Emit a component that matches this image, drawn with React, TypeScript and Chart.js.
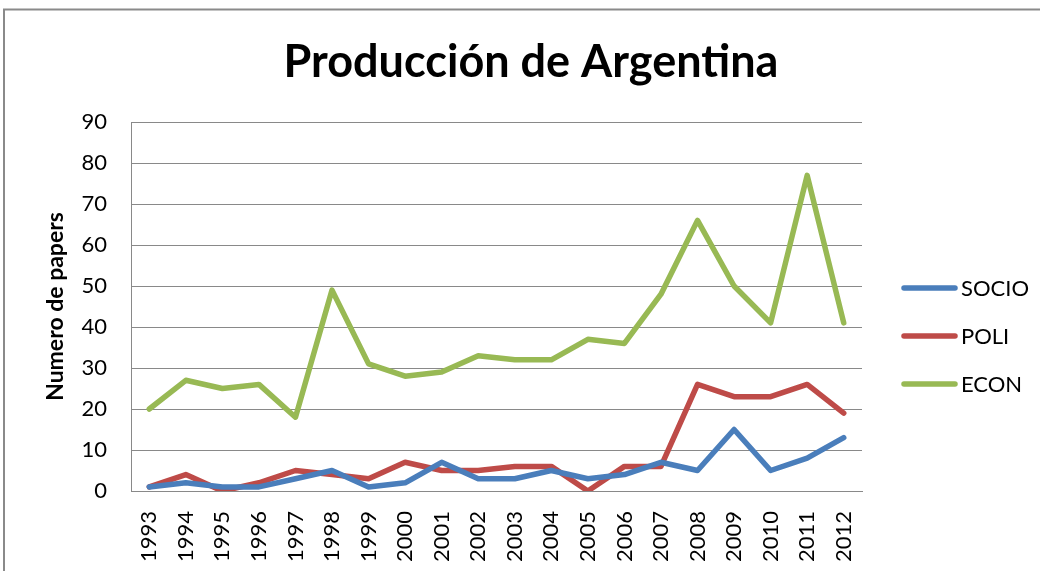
import React, { useEffect, useRef } from "react";
import { Chart, registerables } from "chart.js";

Chart.register(...registerables);

const years = ["1993","1994","1995","1996","1997","1998","1999","2000","2001","2002","2003","2004","2005","2006","2007","2008","2009","2010","2011","2012"];
const socio = [1, 2, 1, 1, 3, 5, 1, 2, 7, 3, 3, 5, 3, 4, 7, 5, 15, 5, 8, 13];
const poli = [1, 4, 0, 2, 5, 4, 3, 7, 5, 5, 6, 6, 0, 6, 6, 26, 23, 23, 26, 19];
const econ = [20, 27, 25, 26, 18, 49, 31, 28, 29, 33, 32, 32, 37, 36, 48, 66, 50, 41, 77, 41];
const seriesNames = ["SOCIO", "POLI", "ECON"];
const seriesColors = ["#4A7EBB", "#BE4B48", "#98B954"];
const yMin = 0;
const yMax = 90;
const yStep = 10;
const titleText = "Producción de Argentina";
const yTitle = "Numero de papers";

const FONT = "Lato";
const GRID = "#898989";

const framePlugin = {
  id: "frame",
  afterDraw(chart: any) {
    const ctx = chart.ctx;
    ctx.save();
    ctx.strokeStyle = "#8a8a8a";
    ctx.lineWidth = 2;
    ctx.beginPath();
    ctx.moveTo(4, 571);
    ctx.lineTo(4, 9.5);
    ctx.lineTo(1040, 9.5);
    ctx.stroke();
    // title
    ctx.fillStyle = "#000";
    ctx.font = `bold 45px ${FONT}`;
    ctx.textAlign = "center";
    ctx.textBaseline = "alphabetic";
    ctx.fillText(titleText, 531, 77);
    ctx.restore();
  },
};

const legendPlugin = {
  id: "customLegend",
  afterDraw(chart: any) {
    const ctx = chart.ctx;
    ctx.save();
    const rows = [288, 336, 384];
    chart.data.datasets.forEach((ds: any, i: number) => {
      const y = rows[i];
      ctx.strokeStyle = ds.borderColor;
      ctx.lineWidth = 5.5;
      ctx.lineCap = "round";
      ctx.beginPath();
      ctx.moveTo(904, y);
      ctx.lineTo(955, y);
      ctx.stroke();
      ctx.fillStyle = "#000";
      ctx.font = `22px ${FONT}`;
      ctx.textBaseline = "middle";
      ctx.textAlign = "left";
      ctx.fillText(ds.label, 961, y + 1);
    });
    ctx.restore();
  },
};

export default function App() {
  const ref = useRef<HTMLCanvasElement | null>(null);
  useEffect(() => {
    if (!ref.current) return;
    const chart = new Chart(ref.current, {
      type: "line",
      data: {
        labels: years,
        datasets: [socio, poli, econ].map((d, i) => ({
          label: seriesNames[i],
          data: d,
          borderColor: seriesColors[i],
          backgroundColor: seriesColors[i],
          borderWidth: 5.5,
          pointRadius: 0,
          tension: 0,
          borderJoinStyle: "round" as const,
          borderCapStyle: "round" as const,
        })),
      },
      options: {
        responsive: false,
        animation: false,
        layout: { padding: { left: 0, right: 178, top: 122, bottom: 0 } },
        plugins: {
          legend: { display: false },
          tooltip: { enabled: false },
          title: { display: false },
        },
        scales: {
          x: {
            offset: true,
            grid: { display: false, drawTicks: false },
            border: { display: true, color: GRID, width: 1 },
            ticks: {
              color: "#000",
              font: { family: FONT, size: 22 },
              minRotation: 90,
              maxRotation: 90,
              autoSkip: false,
              padding: 20,
            },
            afterFit: (s: any) => { s.height = 80; },
          },
          y: {
            min: yMin,
            max: yMax,
            grid: { color: GRID, lineWidth: 1, drawTicks: false },
            border: { display: true, color: GRID, width: 1 },
            ticks: {
              stepSize: yStep,
              color: "#000",
              font: { family: FONT, size: 22 },
              padding: 24,
            },
            title: {
              display: true,
              text: yTitle,
              color: "#000",
              font: { family: FONT, size: 23, weight: "bold" },
              padding: { top: 42, bottom: 0 },
            },
            afterFit: (s: any) => { s.width = 131; },
          },
        },
      },
      plugins: [framePlugin, legendPlugin],
    });
    return () => chart.destroy();
  }, []);
  return (
    <div style={{ position: "absolute", left: 0, top: 0, width: 1040, height: 571, background: "#fff" }}>
      <canvas ref={ref} width={1040} height={571} style={{ display: "block" }} />
    </div>
  );
}
